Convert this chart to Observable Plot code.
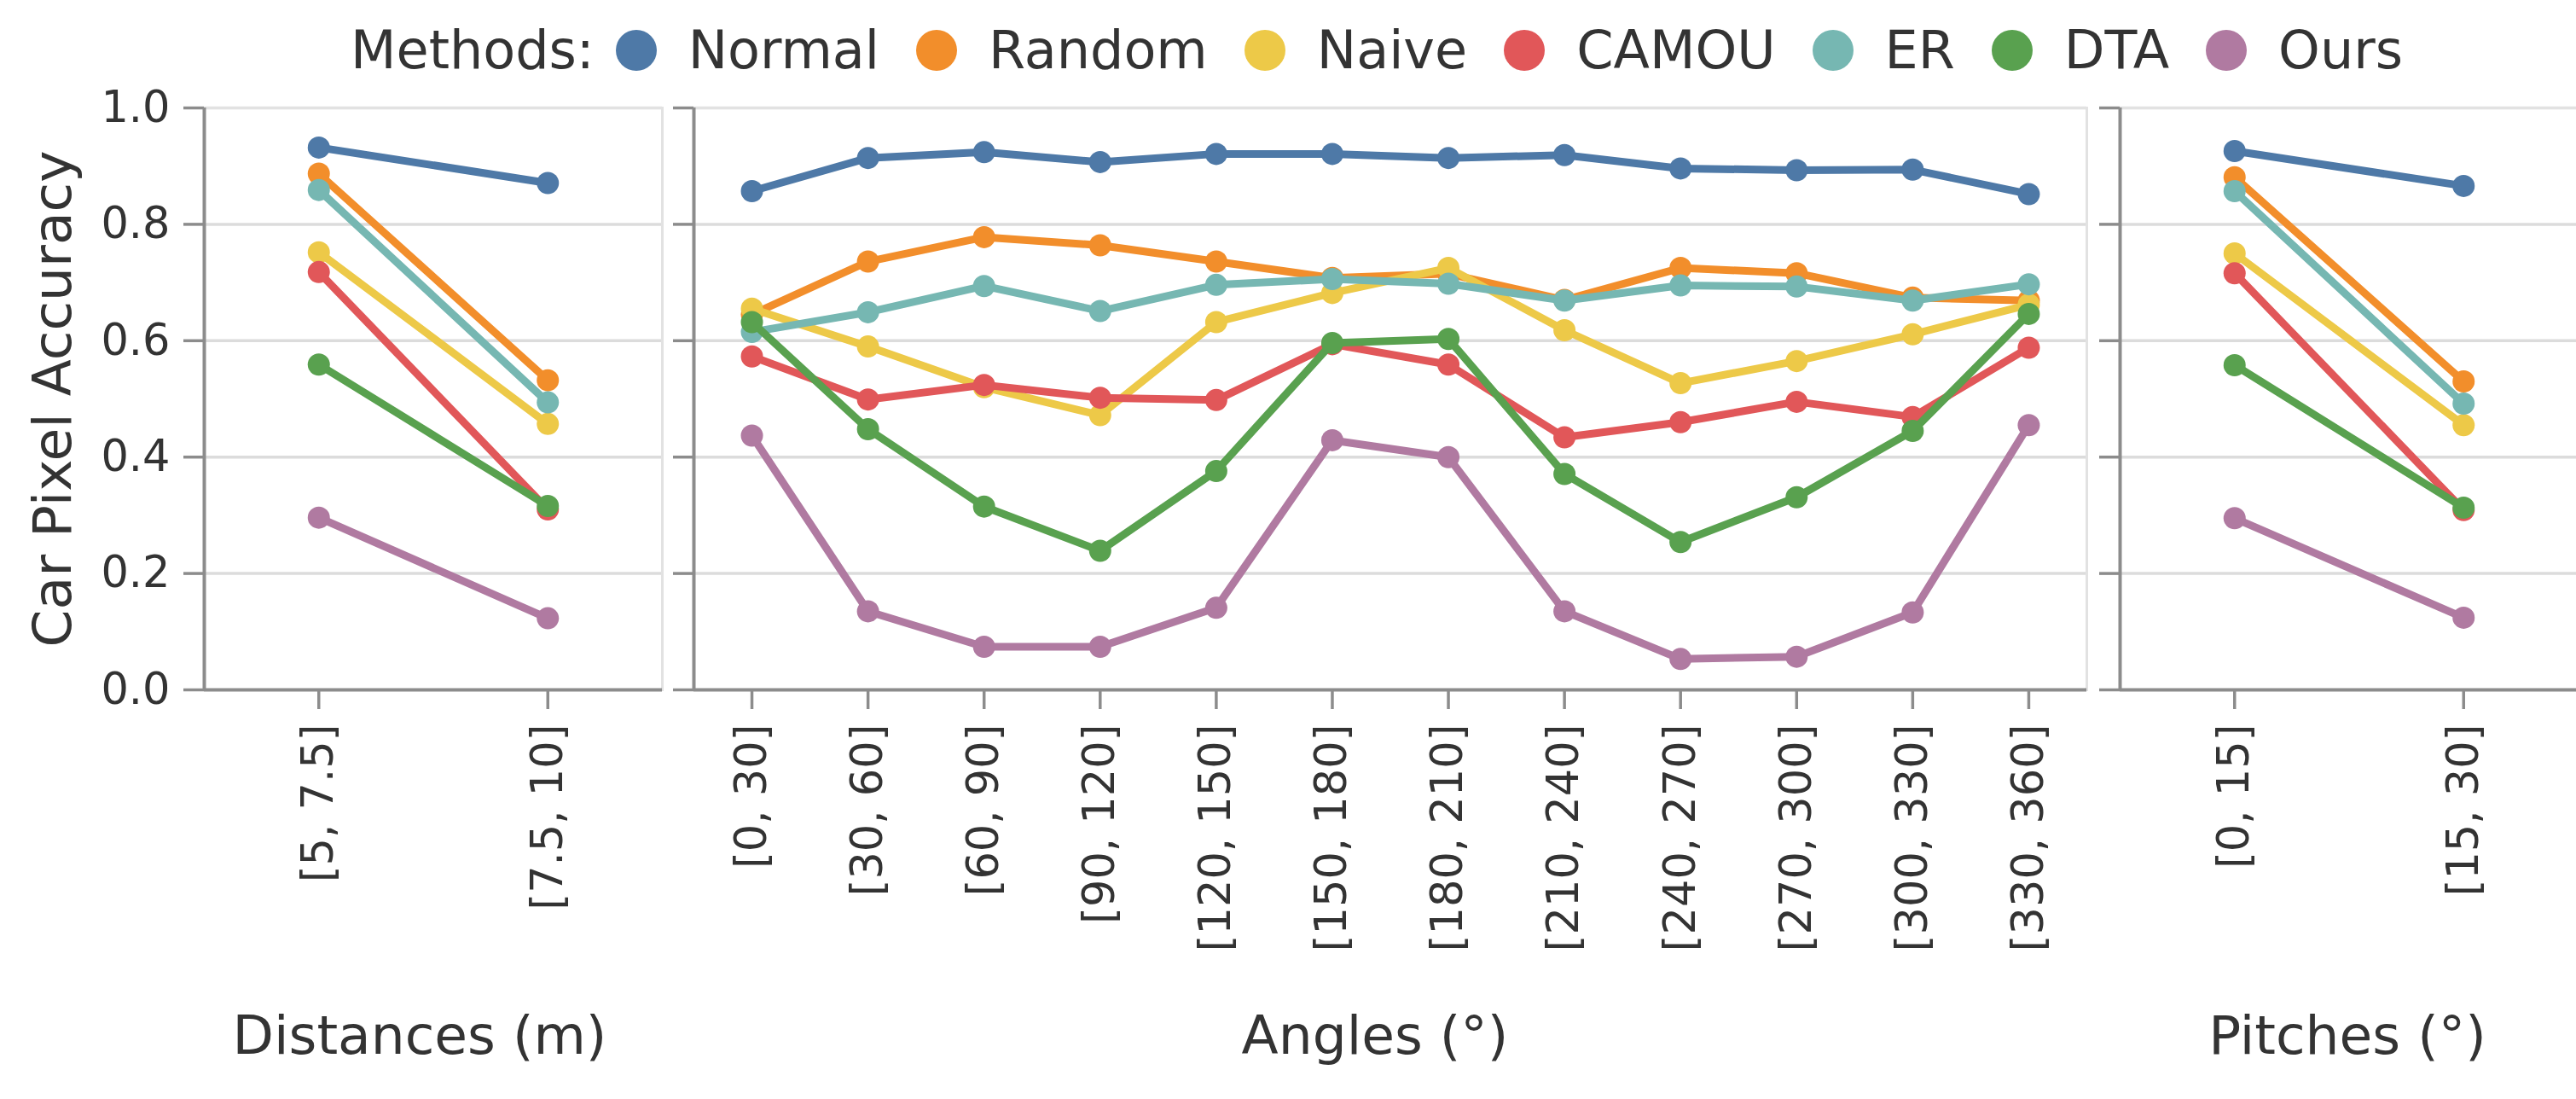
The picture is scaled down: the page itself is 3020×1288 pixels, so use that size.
<!DOCTYPE html>
<html>
<head>
<meta charset="utf-8">
<script src="https://cdn.jsdelivr.net/npm/d3@7"></script>
<script src="https://cdn.jsdelivr.net/npm/@observablehq/plot@0.6"></script>
<style>
  html, body { margin: 0; padding: 0; background: #fff; overflow: hidden; }
  #root { position: relative; width: 3020px; height: 1288px; overflow: hidden; font-family: "DejaVu Sans"; color: #333; }
  .panel { position: absolute; top: 0; }
  #legend { position: absolute; left: 411px; top: 28px; display: flex; align-items: center; font-size: 62px; line-height: 62px; white-space: nowrap; }
  #legend .sw { width: 48px; height: 48px; border-radius: 50%; margin-left: 43px; margin-right: 37px; flex: none; }
  #legend .sw.first { margin-left: 25px; }
</style>
</head>
<body>
<div id="root"><div id="legend"></div></div>
<script>
// ---- data ----
const methods = ["Normal", "Random", "Naive", "CAMOU", "ER", "DTA", "Ours"];
const colors  = ["#4e79a7", "#f28e2b", "#edc948", "#e15759", "#76b7b2", "#59a14f", "#b07aa1"];

const distanceLabels = ["[5, 7.5]", "[7.5, 10]"];
const angleLabels = ["[0, 30]", "[30, 60]", "[60, 90]", "[90, 120]", "[120, 150]", "[150, 180]",
                     "[180, 210]", "[210, 240]", "[240, 270]", "[270, 300]", "[300, 330]", "[330, 360]"];
const pitchLabels = ["[0, 15]", "[15, 30]"];
const yTicks = [0, 0.2, 0.4, 0.6, 0.8, 1.0];

// Distances
const normalDist = [0.932, 0.871];
const randomDist = [0.887, 0.532];
const naiveDist  = [0.752, 0.457];
const camouDist  = [0.718, 0.310];
const erDist     = [0.859, 0.494];
const dtaDist    = [0.559, 0.316];
const oursDist   = [0.296, 0.123];

// Angles
const normalAngle = [0.857, 0.914, 0.924, 0.907, 0.921, 0.921, 0.914, 0.919, 0.896, 0.893, 0.894, 0.852];
const randomAngle = [0.645, 0.736, 0.778, 0.764, 0.736, 0.708, 0.715, 0.670, 0.725, 0.716, 0.674, 0.669];
const naiveAngle  = [0.655, 0.590, 0.520, 0.472, 0.632, 0.682, 0.725, 0.618, 0.527, 0.565, 0.611, 0.662];
const camouAngle  = [0.573, 0.499, 0.524, 0.502, 0.498, 0.594, 0.559, 0.434, 0.460, 0.495, 0.469, 0.588];
const erAngle     = [0.615, 0.649, 0.694, 0.651, 0.696, 0.706, 0.698, 0.669, 0.695, 0.693, 0.669, 0.697];
const dtaAngle    = [0.632, 0.448, 0.315, 0.239, 0.376, 0.596, 0.603, 0.371, 0.254, 0.331, 0.445, 0.646];
const oursAngle   = [0.437, 0.135, 0.074, 0.074, 0.141, 0.429, 0.400, 0.135, 0.053, 0.057, 0.133, 0.455];

// Pitches
const normalPitch = [0.926, 0.866];
const randomPitch = [0.881, 0.530];
const naivePitch  = [0.750, 0.455];
const camouPitch  = [0.716, 0.309];
const erPitch     = [0.857, 0.492];
const dtaPitch    = [0.558, 0.313];
const oursPitch   = [0.295, 0.124];

// ---- legend ----
const legend = document.getElementById("legend");
const lt = document.createElement("span");
lt.textContent = "Methods:";
legend.appendChild(lt);
methods.forEach((m, k) => {
  const sw = document.createElement("span");
  sw.className = "sw" + (k === 0 ? " first" : "");
  sw.style.background = colors[k];
  legend.appendChild(sw);
  const t = document.createElement("span");
  t.textContent = m;
  legend.appendChild(t);
});

// ---- panels ----
const tickColor = "#8c8c8c";
const textColor = "#333333";

function panel({labels, series, left, width, marginLeft, marginRight, showY, title, titleDx}) {
  const n = labels.length;
  const marks = [
    Plot.ruleY(yTicks.slice(1), {stroke: "#dcdcdc", strokeWidth: 3.5}),
    Plot.frame({stroke: "#e2e2e2", strokeWidth: 3}),
    Plot.ruleX([-0.5], {stroke: tickColor, strokeWidth: 4}),
    Plot.ruleY([0], {stroke: tickColor, strokeWidth: 4}),
    Plot.axisY({ticks: yTicks, tickSize: 24, tickPadding: 16,
      tickFormat: showY ? d3.format(".1f") : () => "",
      stroke: tickColor, strokeWidth: 3.5, fill: textColor, fontSize: 51, label: null}),
    Plot.axisX({ticks: d3.range(n), tickFormat: i => labels[i], tickRotate: -90,
      tickSize: 23, tickPadding: 17, stroke: tickColor, strokeWidth: 3.5,
      fill: textColor, fontSize: 51, label: null})
  ];
  methods.forEach((m, k) => {
    const rows = series[k].map((v, i) => ({method: m, i, v}));
    marks.push(Plot.line(rows, {x: "i", y: "v", stroke: "method", strokeWidth: 9}));
    marks.push(Plot.dot(rows, {x: "i", y: "v", fill: "method", r: 13}));
  });
  marks.push(Plot.text([title], {frameAnchor: "bottom", lineAnchor: "bottom", dy: 426, dx: titleDx,
    fontSize: 63, fill: textColor}));
  if (showY) {
    marks.push(Plot.text(["Car Pixel Accuracy"], {frameAnchor: "left", textAnchor: "middle",
      lineAnchor: "bottom", rotate: -90, dx: -157, fontSize: 63, fill: textColor}));
  }
  const svg = Plot.plot({
    width, height: 1288, marginTop: 126, marginBottom: 480, marginLeft, marginRight,
    x: {type: "linear", domain: [-0.5, n - 0.5]},
    y: {domain: [0, 1]},
    color: {domain: methods, range: colors},
    style: {fontFamily: "DejaVu Sans", background: "transparent", overflow: "visible", fontSize: "51px"},
    marks
  });
  svg.classList.add("panel");
  svg.style.left = left + "px";
  document.getElementById("root").appendChild(svg);
}

panel({labels: distanceLabels,
  series: [normalDist, randomDist, naiveDist, camouDist, erDist, dtaDist, oursDist],
  left: 0, width: 780, marginLeft: 239, marginRight: 4, showY: true,
  title: "Distances (m)", titleDx: -16});

panel({labels: angleLabels,
  series: [normalAngle, randomAngle, naiveAngle, camouAngle, erAngle, dtaAngle, oursAngle],
  left: 780, width: 1676, marginLeft: 33, marginRight: 10, showY: false,
  title: "Angles (°)", titleDx: -18});

panel({labels: pitchLabels,
  series: [normalPitch, randomPitch, naivePitch, camouPitch, erPitch, dtaPitch, oursPitch],
  left: 2456, width: 566, marginLeft: 29, marginRight: 0, showY: false,
  title: "Pitches (°)", titleDx: -2});
</script>
</body>
</html>
